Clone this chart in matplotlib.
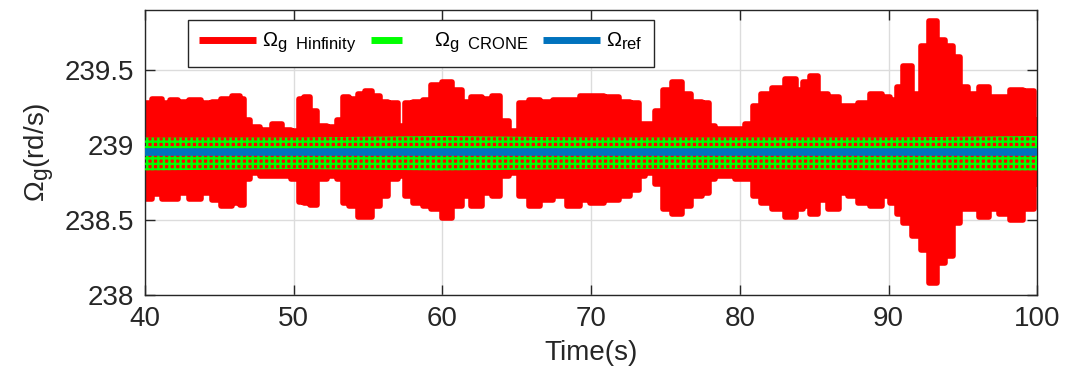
import matplotlib
matplotlib.use("Agg")
import numpy as np
import matplotlib.pyplot as plt
from matplotlib.lines import Line2D
from matplotlib.legend_handler import HandlerLine2D

plt.rcParams['font.family'] = ['Liberation Sans', 'DejaVu Sans']
plt.rcParams['mathtext.fontset'] = 'custom'
plt.rcParams['mathtext.rm'] = 'Liberation Sans'
plt.rcParams['mathtext.it'] = 'Liberation Sans'
plt.rcParams['hatch.linewidth'] = 1.7

# matlab's tex subscripts are bigger than mathtext's default ones
try:
    import matplotlib._mathtext as _mt
    _mt.SHRINK_FACTOR = 0.82
except Exception:
    pass

# envelope of the H-infinity rotor speed
t_env = [39.8, 40.1, 40.8, 41.5, 41.9, 42.6, 43.3, 44.2, 44.8, 45.5, 46.2, 46.6,
         46.8, 47.3, 48.2, 48.9, 49.5, 50.2, 50.5, 50.9, 51.3, 51.8, 52.7, 53.1,
         53.5, 54.0, 54.7, 54.9, 55.6, 56.0, 56.7, 57.4, 57.6, 58.5, 58.9, 59.6,
         60.3, 61.0, 61.6, 62.3, 63.0, 63.7, 64.1, 64.8, 65.5, 66.1, 67.0, 67.9,
         68.8, 69.7, 70.2, 71.5, 72.2, 73.1, 73.3, 74.0, 74.6, 75.1, 75.8, 76.4,
         77.1, 77.8, 78.0, 78.7, 79.3, 80.0, 80.7, 81.1, 81.8, 82.5, 83.6, 84.0,
         84.5, 84.95, 85.6, 86.3, 87.0, 87.6, 88.3, 89.2, 89.9, 90.3, 90.8, 91.2,
         91.9, 92.4, 93.0, 93.5, 94.1, 94.6, 95.0, 95.7, 96.4, 97.1, 97.7, 98.6,
         99.5, 100.0]
hinf_hi = [239.23, 239.28, 239.31, 239.28, 239.30, 239.29, 239.30, 239.28, 239.29, 239.31, 239.33, 239.31,
           239.17, 239.12, 239.10, 239.14, 239.10, 239.09, 239.31, 239.32, 239.23, 239.13, 239.12, 239.17,
           239.32, 239.31, 239.34, 239.36, 239.33, 239.29, 239.28, 239.13, 239.28, 239.29, 239.30, 239.40,
           239.42, 239.37, 239.29, 239.32, 239.31, 239.33, 239.16, 239.09, 239.28, 239.30, 239.29, 239.30,
           239.30, 239.33, 239.33, 239.32, 239.29, 239.28, 239.14, 239.14, 239.23, 239.37, 239.42, 239.34,
           239.29, 239.28, 239.13, 239.11, 239.11, 239.11, 239.14, 239.26, 239.34, 239.38, 239.44, 239.37,
           239.42, 239.46, 239.34, 239.32, 239.26, 239.26, 239.28, 239.34, 239.32, 239.30, 239.39, 239.53,
           239.34, 239.66, 239.83, 239.70, 239.66, 239.59, 239.39, 239.34, 239.39, 239.32, 239.32, 239.37,
           239.36, 239.17]
hinf_lo = [238.66, 238.64, 238.67, 238.64, 238.64, 238.68, 238.64, 238.68, 238.63, 238.59, 238.61, 238.60,
           238.77, 238.81, 238.79, 238.79, 238.79, 238.77, 238.62, 238.61, 238.60, 238.77, 238.79, 238.77,
           238.61, 238.59, 238.52, 238.52, 238.59, 238.66, 238.77, 238.79, 238.66, 238.61, 238.59, 238.57,
           238.51, 238.59, 238.66, 238.59, 238.68, 238.66, 238.79, 238.81, 238.66, 238.59, 238.63, 238.66,
           238.59, 238.63, 238.61, 238.63, 238.66, 238.70, 238.79, 238.81, 238.74, 238.57, 238.54, 238.59,
           238.66, 238.68, 238.77, 238.79, 238.79, 238.77, 238.77, 238.66, 238.61, 238.57, 238.52, 238.57,
           238.59, 238.54, 238.63, 238.57, 238.68, 238.66, 238.61, 238.59, 238.66, 238.61, 238.54, 238.48,
           238.39, 238.30, 238.08, 238.21, 238.26, 238.48, 238.57, 238.57, 238.52, 238.57, 238.54, 238.50,
           238.57, 238.74]

# envelope of the CRONE rotor speed
t_crone = [40, 50, 60, 70, 80, 90, 100]
crone_hi = [239.05, 239.05, 239.06, 239.05, 239.05, 239.05, 239.06]
crone_lo = [238.83, 238.84, 238.83, 238.84, 238.84, 238.83, 238.83]

# reference speed
t_ref = [40, 100]
omega_ref = [238.955, 238.955]

x_ticks = [40, 50, 60, 70, 80, 90, 100]
y_ticks = [238, 238.5, 239, 239.5]
y_tick_labels = ['238', '238.5', '239', '239.5']

red = '#ff0000'
green = '#00ff00'
blue = '#0072bd'
txt = '#262626'


class ShortLineHandler(HandlerLine2D):
    # matlab draws the CRONE legend sample shorter than the others
    def create_artists(self, legend, orig_handle, xdescent, ydescent,
                       width, height, fontsize, trans):
        arts = super().create_artists(legend, orig_handle, xdescent, ydescent,
                                      width, height, fontsize, trans)
        for a in arts:
            xd = np.asarray(a.get_xdata(), dtype=float)
            if len(xd) >= 2:
                a.set_xdata(np.linspace(xd[0], xd[0] + 0.54 * (xd[-1] - xd[0]), len(xd)))
        return arts


fig = plt.figure(figsize=(10.65, 3.88), dpi=100)
ax = fig.add_axes([0.136, 0.240, 0.838, 0.734])

ax.fill_between(t_env, hinf_lo, hinf_hi, step='mid', facecolor=red, edgecolor=red,
                linewidth=4, joinstyle='round', zorder=2)
ax.fill_between(t_crone, crone_lo, crone_hi, facecolor='none', edgecolor=green,
                hatch='+++', linewidth=0, zorder=3)
ax.plot(t_ref, omega_ref, color=blue, linewidth=5.5, solid_capstyle='butt', zorder=4)

ax.set_xlim(40, 100)
ax.set_ylim(238, 239.9)
ax.set_xticks(x_ticks)
ax.set_yticks(y_ticks)
ax.set_yticklabels(y_tick_labels)
ax.grid(True, color='#dcdcdc', linewidth=1.0)
ax.set_axisbelow(True)
ax.tick_params(direction='in', length=7, width=1, top=True, right=True,
               labelsize=20, colors=txt, pad=8)
for s in ax.spines.values():
    s.set_color(txt)
    s.set_linewidth(1.0)

ax.set_xlabel('Time(s)', fontsize=20, color=txt, labelpad=6)
ax.set_ylabel(r'$\Omega_{\mathrm{g}}$(rd/s)', fontsize=20, color=txt, labelpad=6)

green_proxy = Line2D([], [], color=green, lw=5, solid_capstyle='butt')
handles = [Line2D([], [], color=red, lw=5, solid_capstyle='butt'),
           green_proxy,
           Line2D([], [], color=blue, lw=5, solid_capstyle='butt')]
labels = [r'$\Omega_{\mathrm{g\ \ Hinfinity}}$',
          r'$\Omega_{\mathrm{g\ \ CRONE}}$',
          r'$\Omega_{\mathrm{ref}}$']
leg = ax.legend(handles, labels, ncol=3, loc='upper left',
                bbox_to_anchor=(0.048, 0.965), fontsize=14.5, frameon=True,
                fancybox=False, edgecolor=txt, framealpha=1,
                handlelength=2.85, handletextpad=0.3, columnspacing=0.7,
                borderpad=0.55, borderaxespad=0,
                handler_map={green_proxy: ShortLineHandler()})
leg.get_frame().set_linewidth(1.0)

fig.savefig('out.png', dpi=100)
